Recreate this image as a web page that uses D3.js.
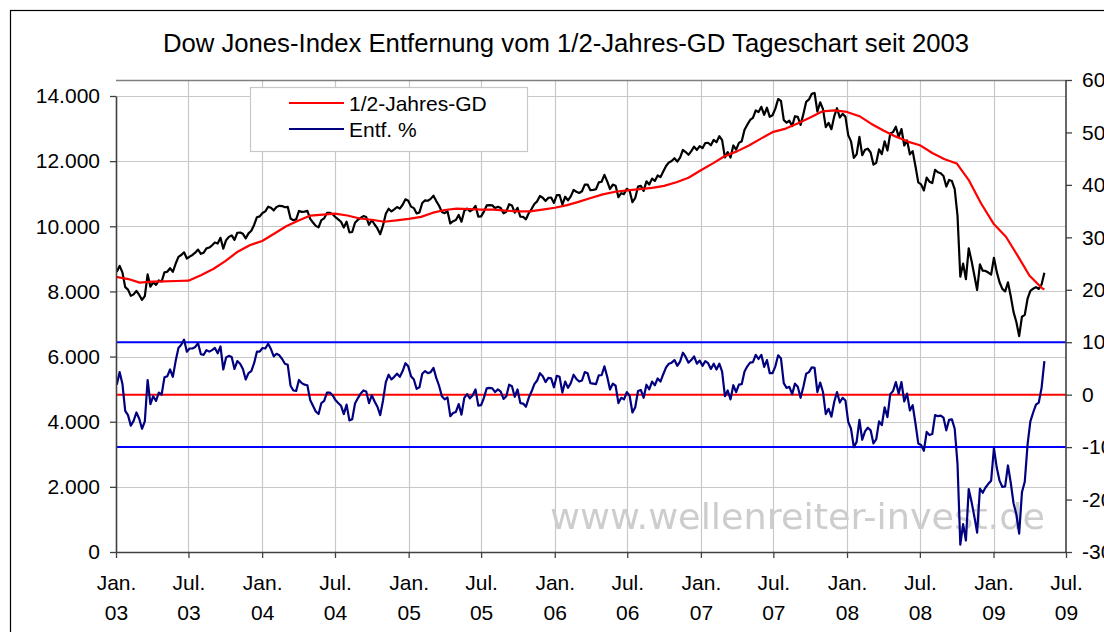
<!DOCTYPE html>
<html><head><meta charset="utf-8">
<script src="https://cdn.jsdelivr.net/npm/d3@7/dist/d3.min.js"></script>
<style>
body{margin:0;background:#fff}
svg{display:block}
text{font-family:"Liberation Sans",Arial,sans-serif;fill:#000}
</style>
</head><body>
<svg id="chart" width="1104" height="632"></svg>
<script>
// ---------- data ----------
const chartTitle = "Dow Jones-Index Entfernung vom 1/2-Jahres-GD Tageschart seit 2003";
const legendLabels = ["1/2-Jahres-GD", "Entf. %"];
const watermark = "www.wellenreiter-invest.de";

const xTickMonths = ["Jan.","Jul.","Jan.","Jul.","Jan.","Jul.","Jan.","Jul.","Jan.","Jul.","Jan.","Jul.","Jan.","Jul."];
const xTickYears  = ["03","03","04","04","05","05","06","06","07","07","08","08","09","09"];
const leftTickValues = [0,2000,4000,6000,8000,10000,12000,14000];
const leftTickLabels = ["0","2.000","4.000","6.000","8.000","10.000","12.000","14.000"];
const rightTickValues = [-30,-20,-10,0,10,20,30,40,50,60];
const rightTickLabels = ["-30","-20","-10","0","10","20","30","40","50","60"];
const refLevels = [10, 0, -10];

// weekly closes (Fridays) starting 2003-01-03
const firstWeek = "2003-01-03";
const dow = [
8601,8785,8586,8131,8054,7864,7909,8018,7891,7740,7859,8522,8145,8277,8203,8337,8306,8583,8604,8713,8601,8850,9062,9117,9201,9011,9070,9120,9189,9285,9154,9191,9321,9348,9416,9503,9471,9645,9313,9573,9675,9722,9583,9801,9810,9768,9629,9782,9863,10042,10278,10305,
10409,10458,10600,10568,10488,10593,10628,10620,10584,10596,10240,10186,10213,10470,10443,10452,10473,10226,10118,10012,9967,10188,10243,10410,10416,10372,10283,10214,10140,9962,10140,9815,9825,10110,10196,10260,10314,10284,10047,10192,10055,9933,9757,10027,10387,10539,10456,10522,10592,10543,10661,10828,10783,
10603,10558,10393,10427,10716,10796,10785,10841,10941,10774,10630,10442,10404,10461,10087,10157,10193,10346,10140,10471,10542,10460,10512,10623,10297,10303,10449,10640,10651,10641,10558,10600,10559,10397,10447,10679,10641,10420,10568,10292,10287,10215,10402,10530,10686,10766,10931,10877,10778,10876,10883,10718,
10959,10960,10667,10907,10794,10920,11115,11062,11022,11076,11280,11280,11109,11120,11138,11347,11367,11578,11380,11144,11278,11247,10892,11015,10989,11150,11091,10739,10868,11219,11240,11088,11381,11284,11464,11392,11560,11508,11679,11850,11961,12002,12090,11986,12108,12342,12280,12194,12307,12445,12343,12463,
12398,12556,12565,12487,12653,12580,12768,12647,12114,12277,12110,12481,12354,12560,12612,12962,13120,13265,13327,13556,13507,13668,13424,13639,13361,13408,13612,13907,13851,13265,13182,13240,13079,13379,13358,13113,13443,13821,13896,14066,14093,13522,13807,13595,13043,13177,12981,13372,13625,13339,13451,13366,
12800,12606,12099,12207,12743,12183,12348,12381,12266,11894,11951,12361,12216,12610,12325,12849,12891,13058,12745,12986,12480,12638,12209,12307,11843,11347,11288,11100,11496,11370,11326,11734,11659,11628,11543,11220,11422,11388,11143,10325,8451,8852,8378,9325,8943,8497,8046,8829,8635,8629,8579,8515,
9034,8600,8281,8078,8001,8280,7850,7366,7063,6627,7224,7279,7776,8018,8083,8131,8076,8213,8575
];
const entf = [
1.9,4.3,2.1,-3.1,-3.9,-5.9,-5.0,-3.4,-4.6,-6.5,-5.1,2.8,-1.8,-0.3,-1.2,0.4,0.0,3.3,3.5,4.8,3.4,6.4,8.9,9.5,10.5,8.2,8.8,8.8,9.1,9.8,7.7,7.6,8.5,8.2,8.5,8.9,7.9,9.2,4.8,7.1,7.4,7.2,4.9,6.4,5.9,4.9,2.9,4.1,4.5,6.0,8.2,8.2,
8.9,8.8,9.7,8.7,7.3,7.8,7.5,6.8,5.9,5.7,1.7,0.8,0.7,2.8,2.2,1.9,1.8,-1.0,-2.1,-3.2,-3.7,-1.6,-1.2,0.4,0.4,-0.1,-1.0,-1.6,-2.1,-3.7,-1.9,-4.9,-4.7,-1.7,-0.7,0.2,0.8,0.6,-1.6,-0.1,-1.3,-2.3,-3.9,-1.1,2.4,3.8,2.9,3.4,4.0,3.4,4.5,6.0,5.4,
3.5,2.9,1.1,1.4,4.0,4.5,4.1,4.3,5.1,3.2,1.7,-0.3,-0.9,-0.5,-4.1,-3.5,-3.3,-1.8,-3.8,-0.6,0.1,-0.7,-0.1,1.0,-2.1,-2.0,-0.6,1.2,1.3,1.2,0.5,1.0,0.6,-0.8,-0.3,1.9,1.6,-0.4,1.0,-1.6,-1.7,-2.3,-0.6,0.6,2.0,2.7,4.1,3.5,2.4,3.2,3.1,1.4,
3.6,3.4,0.4,2.5,1.3,2.2,3.8,3.0,2.5,2.7,4.3,4.1,2.2,2.1,2.0,3.7,3.7,5.4,3.4,1.0,2.1,1.7,-1.6,-0.6,-0.9,0.5,-0.2,-3.4,-2.4,0.7,0.9,-0.6,1.9,1.0,2.5,1.8,3.1,2.5,3.9,5.2,5.9,6.1,6.6,5.5,6.3,8.0,7.2,6.1,6.6,7.3,5.9,6.5,
5.5,6.4,6.0,4.9,5.9,4.8,5.9,4.4,-0.3,0.8,-0.9,1.8,0.5,1.9,2.0,4.4,5.4,6.1,6.2,7.6,6.8,7.6,5.3,6.6,4.1,4.1,5.4,7.5,6.9,2.2,1.3,1.5,0.1,2.1,1.5,-0.6,1.5,4.0,4.3,5.2,5.1,0.5,2.3,0.5,-3.7,-2.7,-4.2,-1.4,0.5,-1.5,-0.6,-1.1,
-5.2,-6.5,-10.0,-9.0,-4.8,-8.6,-7.0,-6.3,-6.8,-9.3,-8.5,-5.1,-5.8,-2.4,-4.3,0.1,0.7,2.4,0.2,2.4,-1.3,0.2,-3.0,-2.0,-5.5,-9.3,-9.6,-10.7,-7.1,-7.7,-7.5,-3.9,-4.1,-4.0,-4.4,-6.8,-4.8,-4.7,-6.5,-13.2,-28.6,-24.7,-27.8,-18.0,-20.4,-23.2,-26.3,-17.9,-18.7,-17.7,-17.0,-16.4,
-10.2,-13.9,-16.4,-17.6,-17.5,-13.5,-16.8,-20.7,-22.8,-26.5,-18.6,-16.6,-9.5,-5.1,-3.4,-1.9,-1.5,1.3,6.4
];
// 1/2-Jahres-GD, first of each month from 2003-01 to 2009-05, plus last day
const gdFirstMonth = "2003-01-01";
const gdLastDay = "2009-05-08";
const gd = [
8450,8380,8270,8300,8310,8320,8330,8500,8690,8930,9220,9420,
9550,9780,10000,10180,10330,10360,10390,10330,10240,10200,10140,10180,
10230,10290,10410,10500,10540,10530,10510,10510,10480,10460,10460,10510,
10570,10650,10750,10870,10980,11060,11100,11140,11180,11240,11350,11490,
11720,11940,12150,12300,12480,12700,12900,13000,13160,13340,13530,13560,
13510,13380,13150,12940,12760,12600,12490,12250,12060,11930,11400,10700,
10080,9680,9120,8480,8110,8060
];

// ---------- chart ----------
const parse = d3.timeParse("%Y-%m-%d");
const svg = d3.select("#chart");
const L = 116, R = 1066, T = 80, B = 552;

const x = d3.scaleTime().domain([new Date(2003,0,1), new Date(2009,6,1)]).range([L, R]);
const yL = d3.scaleLinear().domain([0, 14000]).range([B, 96]);
const yR = d3.scaleLinear().domain([-30, 60]).range([B, T]);

const w0 = parse(firstWeek);
const dowData = dow.map((v,i)=>({d:d3.timeDay.offset(w0, 7*i), v}));
const entfData = entf.map((v,i)=>({d:d3.timeDay.offset(w0, 7*i), v}));
const g0 = parse(gdFirstMonth);
const gdData = gd.map((v,i)=>({d: i < gd.length-1 ? d3.timeMonth.offset(g0, i) : parse(gdLastDay), v}));

// outer frame
svg.append("rect").attr("x",10.5).attr("y",10.5).attr("width",1200).attr("height",700)
  .attr("fill","none").attr("stroke","#000").attr("stroke-width",1.2);

// title
svg.append("text").attr("x",566).attr("y",52).attr("text-anchor","middle")
  .attr("font-size",25.7).text(chartTitle);

// gridlines
const xTicks = d3.timeMonth.every(6).range(new Date(2003,0,1), new Date(2009,6,2));
const grid = svg.append("g");
grid.selectAll("line.v").data(xTicks.slice(1, -1)).join("line")
  .attr("x1",d=>Math.round(x(d))+0.5).attr("x2",d=>Math.round(x(d))+0.5)
  .attr("y1",T).attr("y2",B).attr("stroke","#c8c8c8").attr("stroke-width",1.2);
grid.selectAll("line.h").data(leftTickValues.slice(1)).join("line")
  .attr("x1",L).attr("x2",R).attr("y1",d=>Math.round(yL(d))+0.5).attr("y2",d=>Math.round(yL(d))+0.5)
  .attr("stroke","#c8c8c8").attr("stroke-width",1.2);

// watermark
const defs = svg.append("defs");
defs.append("filter").attr("id","blur").append("feGaussianBlur").attr("stdDeviation",0.7);
defs.append("clipPath").attr("id","plot").append("rect").attr("x",L).attr("y",T).attr("width",R-L).attr("height",B-T+1);
svg.append("text").attr("x",550).attr("y",529).attr("font-size",35)
  .style("font-family","'DejaVu Sans',Verdana,sans-serif").style("fill","#cdcdcd")
  .attr("textLength",495).attr("lengthAdjust","spacingAndGlyphs")
  .attr("filter","url(#blur)").text(watermark);

// top border
svg.append("line").attr("x1",L).attr("x2",R).attr("y1",T+0.5).attr("y2",T+0.5)
  .attr("stroke","#808080").attr("stroke-width",1.5);

// reference lines (right axis)
svg.selectAll("line.ref").data(refLevels).join("line")
  .attr("x1",L).attr("x2",R).attr("y1",d=>yR(d)).attr("y2",d=>yR(d))
  .attr("stroke",d=>d===0?"#ff0000":"#0000ff").attr("stroke-width",2);

// series
const plot = svg.append("g").attr("clip-path","url(#plot)");
const lineL = d3.line().x(d=>x(d.d)).y(d=>yL(d.v));
const lineR = d3.line().x(d=>x(d.d)).y(d=>yR(d.v));
plot.append("path").datum(dowData).attr("d",lineL).attr("fill","none")
  .attr("stroke","#000").attr("stroke-width",2.2).attr("stroke-linejoin","round");
plot.append("path").datum(gdData).attr("d",lineL).attr("fill","none")
  .attr("stroke","#ff0000").attr("stroke-width",2.2).attr("stroke-linejoin","round");
plot.append("path").datum(entfData).attr("d",lineR).attr("fill","none")
  .attr("stroke","#000080").attr("stroke-width",2.2).attr("stroke-linejoin","round");

// axes
function styleAxis(g){
  g.selectAll(".domain").attr("stroke","#404040").attr("stroke-width",1.6);
  g.selectAll(".tick line").attr("stroke","#404040").attr("stroke-width",1.3);
  g.selectAll("text").attr("font-size",21).style("font-family","'Liberation Sans',Arial,sans-serif").attr("fill","#000");
}
svg.append("g").attr("transform",`translate(${L},0)`)
  .call(d3.axisLeft(yL).tickValues(leftTickValues).tickSize(6).tickSizeOuter(0).tickPadding(10)
    .tickFormat((d,i)=>leftTickLabels[i]))
  .call(styleAxis);
svg.append("g").attr("transform",`translate(${R},0)`)
  .call(d3.axisRight(yR).tickValues(rightTickValues).tickSize(6).tickSizeOuter(0).tickPadding(10)
    .tickFormat((d,i)=>rightTickLabels[i]))
  .call(styleAxis)
  .call(g=>g.select(".domain").attr("d",`M0,${T}V${B}`));
const xAxis = svg.append("g").attr("transform",`translate(0,${B})`)
  .call(d3.axisBottom(x).tickValues(xTicks).tickSize(6).tickSizeOuter(0).tickFormat(""))
  .call(styleAxis);
xAxis.selectAll(".tick").each(function(d,i){
  const t = d3.select(this).append("text").attr("text-anchor","middle").attr("font-size",21)
    .style("font-family","'Liberation Sans',Arial,sans-serif").attr("fill","#000");
  t.append("tspan").attr("x",0).attr("y",38).text(xTickMonths[i]);
  t.append("tspan").attr("x",0).attr("y",68).text(xTickYears[i]);
});

// legend
const lg = svg.append("g");
lg.append("rect").attr("x",250.5).attr("y",87.5).attr("width",277).attr("height",64)
  .attr("fill","#fff").attr("stroke","#c8c8c8").attr("stroke-width",1.2);
const legendColors = ["#ff0000","#000080"];
legendLabels.forEach((lab,i)=>{
  const yy = 103 + i*26;
  lg.append("line").attr("x1",289).attr("x2",344).attr("y1",yy).attr("y2",yy)
    .attr("stroke",legendColors[i]).attr("stroke-width",2.2);
  lg.append("text").attr("x",349).attr("y",yy+7.5).attr("font-size",21).text(lab);
});
</script>
</body></html>
